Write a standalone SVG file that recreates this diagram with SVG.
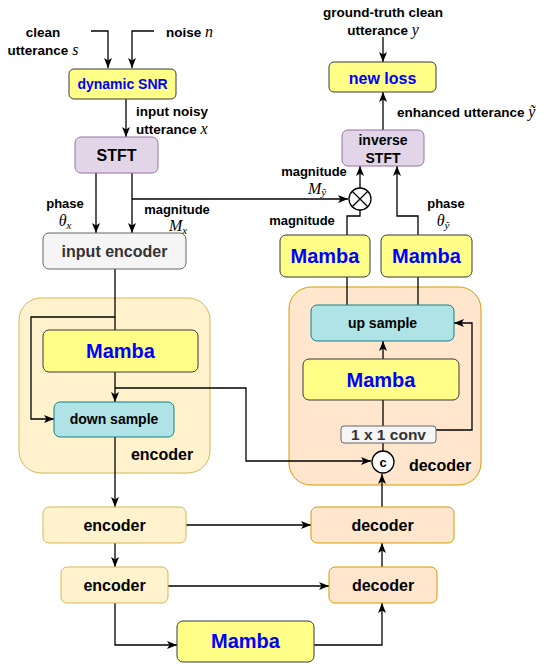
<svg xmlns="http://www.w3.org/2000/svg" width="550" height="669" viewBox="0 0 550 669">
<defs>
<marker id="arr" viewBox="0 0 10 8" refX="10" refY="4" markerWidth="10" markerHeight="8" markerUnits="userSpaceOnUse" orient="auto">
<path d="M0,0 L10,4 L0,8 L2.5,4 z" fill="#000"/>
</marker>
<style>
.t{font-family:"Liberation Sans",Arial,sans-serif;font-weight:bold;fill:#000}
.lbl{font-size:13.5px}
.m{font-family:"Liberation Serif","Times New Roman",serif;font-style:italic;font-weight:normal;font-size:16px}
.sub{font-family:"Liberation Serif","Times New Roman",serif;font-style:italic;font-weight:normal;font-size:11px}
.blue{fill:#0000ff}
.gray{fill:#333333}
.yel{fill:#ffff88;stroke:#36393d;stroke-width:1}
.lav{fill:#e1d5e7;stroke:#9673a6;stroke-width:1}
.gr{fill:#f5f5f5;stroke:#666666;stroke-width:1}
.cy{fill:#b0e3e6;stroke:#0e8088;stroke-width:1}
.enc{fill:#fff2cc;stroke:#d6b656;stroke-width:1}
.dec{fill:#ffe6cc;stroke:#d79b00;stroke-width:1}
.c line,.c path{stroke:#000;stroke-width:1.3;fill:none}
.a{marker-end:url(#arr)}
</style>
</defs>

<!-- containers -->
<g id="encoder-block"><rect class="enc" x="19" y="298" width="191" height="175" rx="22"/><text class="t" x="162" y="460" font-size="16" text-anchor="middle">encoder</text></g>
<g id="decoder-block"><rect class="dec" x="289" y="287" width="192" height="198" rx="22"/><text class="t" x="440" y="471" font-size="16" text-anchor="middle">decoder</text></g>

<!-- connectors -->
<g class="c" id="connectors">
<path class="a" d="M91,31 H108 V68"/>
<path class="a" d="M154,31 H132 V68"/>
<path class="a" d="M126,99 V137"/>
<path class="a" d="M96,173 V233"/>
<path class="a" d="M132,173 V233"/>
<path class="a" d="M132,199 H348"/>
<path class="a" d="M360,188 V166"/>
<path d="M360,210 V216 H347 V235"/>
<path class="a" d="M418,235 V216 H397 V166"/>
<path class="a" d="M383,130 V92"/>
<path class="a" d="M383,37 V62"/>
<path d="M347,277 V305"/>
<path d="M418,277 V305"/>
<path class="a" d="M383,359 V341"/>
<path d="M383,400 V426"/>
<path class="a" d="M436,430 H472 V323 H454"/>
<path d="M383,443 V451"/>
<path class="a" d="M382,507 V474"/>
<path d="M115,269 V330"/>
<path class="a" d="M115,317 H31 V419 H54"/>
<path class="a" d="M115,372 V402"/>
<path class="a" d="M115,388 H246 V461 H371"/>
<path class="a" d="M115,437 V507"/>
<path class="a" d="M186,525 H311"/>
<path class="a" d="M115,543 V567"/>
<path class="a" d="M168,586 H329"/>
<path class="a" d="M382,567 V543"/>
<path class="a" d="M115,603 V645 H177"/>
<path class="a" d="M314,645 H382 V603"/>
</g>

<!-- nodes -->
<g id="dynamic-snr"><rect class="yel" x="69" y="69" width="107" height="30" rx="5"/><text class="t blue" x="122.5" y="89" font-size="14" text-anchor="middle">dynamic SNR</text></g>
<g id="stft"><rect class="lav" x="75" y="137" width="83" height="36" rx="6"/><text class="t" x="116.5" y="161" font-size="16" text-anchor="middle">STFT</text></g>
<g id="input-encoder"><rect class="gr" x="43" y="233" width="143" height="36" rx="6"/><text class="t gray" x="114.5" y="257" font-size="16" text-anchor="middle">input encoder</text></g>
<g id="enc-mamba"><rect class="yel" x="43" y="330" width="155" height="42" rx="6"/><text class="t blue" x="120.5" y="358" font-size="20" text-anchor="middle">Mamba</text></g>
<g id="down-sample"><rect class="cy" x="54" y="402" width="120" height="35" rx="6"/><text class="t" x="114" y="424" font-size="14" text-anchor="middle">down sample</text></g>
<g id="encoder1"><rect class="enc" x="43" y="507" width="143" height="36" rx="6"/><text class="t" x="114.5" y="531" font-size="16" text-anchor="middle">encoder</text></g>
<g id="encoder2"><rect class="enc" x="61" y="567" width="107" height="36" rx="6"/><text class="t" x="114.5" y="591" font-size="16" text-anchor="middle">encoder</text></g>
<g id="bottom-mamba"><rect class="yel" x="177" y="621" width="137" height="41" rx="6"/><text class="t blue" x="245.5" y="648" font-size="20" text-anchor="middle">Mamba</text></g>
<g id="decoder2"><rect class="dec" x="329" y="567" width="108" height="36" rx="6"/><text class="t" x="383" y="591" font-size="16" text-anchor="middle">decoder</text></g>
<g id="decoder1"><rect class="dec" x="311" y="507" width="143" height="36" rx="6"/><text class="t" x="382.5" y="531" font-size="16" text-anchor="middle">decoder</text></g>
<g id="concat"><circle cx="383" cy="462" r="11" fill="#fff" stroke="#000" stroke-width="1.3"/><text class="t" x="383" y="467" font-size="13" text-anchor="middle">c</text></g>
<g id="conv1x1"><rect class="gr" x="341" y="426" width="95" height="17" rx="3"/><text class="t gray" x="388.5" y="440" font-size="15.5" text-anchor="middle">1 x 1 conv</text></g>
<g id="dec-mamba"><rect class="yel" x="303" y="359" width="156" height="41" rx="6"/><text class="t blue" x="381" y="387" font-size="20" text-anchor="middle">Mamba</text></g>
<g id="up-sample"><rect class="cy" x="311" y="305" width="143" height="36" rx="6"/><text class="t" x="382.5" y="328" font-size="14" text-anchor="middle">up sample</text></g>
<g id="mamba-mag"><rect class="yel" x="280" y="235" width="90" height="42" rx="6"/><text class="t blue" x="325" y="263" font-size="20" text-anchor="middle">Mamba</text></g>
<g id="mamba-phase"><rect class="yel" x="381" y="235" width="91" height="42" rx="6"/><text class="t blue" x="426.5" y="263" font-size="20" text-anchor="middle">Mamba</text></g>
<g id="multiply"><circle cx="360" cy="199" r="11" fill="#fff" stroke="#000" stroke-width="1.3"/><path d="M352.2,191.2 L367.8,206.8 M367.8,191.2 L352.2,206.8" stroke="#000" stroke-width="1.3"/></g>
<g id="inverse-stft"><rect class="lav" x="342" y="130" width="82" height="36" rx="6"/><text class="t" x="383" y="145" font-size="14" text-anchor="middle">inverse</text><text class="t" x="383" y="163" font-size="14" text-anchor="middle">STFT</text></g>
<g id="new-loss"><rect class="yel" x="329" y="62" width="107" height="30" rx="5"/><text class="t blue" x="382.5" y="83.5" font-size="16" text-anchor="middle">new loss</text></g>

<!-- labels -->
<g id="labels">
<text class="t lbl" x="43" y="37" text-anchor="middle">clean</text>
<text class="t lbl" x="43" y="55" text-anchor="middle">utterance <tspan class="m">s</tspan></text>
<text class="t lbl" x="166" y="37">noise <tspan class="m">n</tspan></text>
<text class="t lbl" x="136" y="116">input noisy</text>
<text class="t lbl" x="136" y="134">utterance <tspan class="m">x</tspan></text>
<text class="t lbl" x="383" y="17" text-anchor="middle">ground-truth clean</text>
<text class="t lbl" x="383" y="35" text-anchor="middle">utterance <tspan class="m">y</tspan></text>
<text class="t lbl" x="397" y="117">enhanced utterance <tspan class="m">ỹ</tspan></text>
<text class="t" font-size="13" x="65" y="208" text-anchor="middle">phase</text>
<text class="m" x="65" y="226" text-anchor="middle">θ<tspan class="sub" dy="3">x</tspan></text>
<text class="t" font-size="13" x="177" y="214" text-anchor="middle">magnitude</text>
<text class="m" x="178" y="231" text-anchor="middle">M<tspan class="sub" dy="3">x</tspan></text>
<text class="t" font-size="13" x="314" y="176" text-anchor="middle">magnitude</text>
<text class="m" x="317" y="194" text-anchor="middle">M<tspan class="sub" dy="2">ỹ</tspan></text>
<text class="t" font-size="13" x="302" y="225" text-anchor="middle">magnitude</text>
<text class="t" font-size="13" x="446" y="208" text-anchor="middle">phase</text>
<text class="m" x="443" y="226" text-anchor="middle">θ<tspan class="sub" dy="3">ỹ</tspan></text>
</g>
</svg>
